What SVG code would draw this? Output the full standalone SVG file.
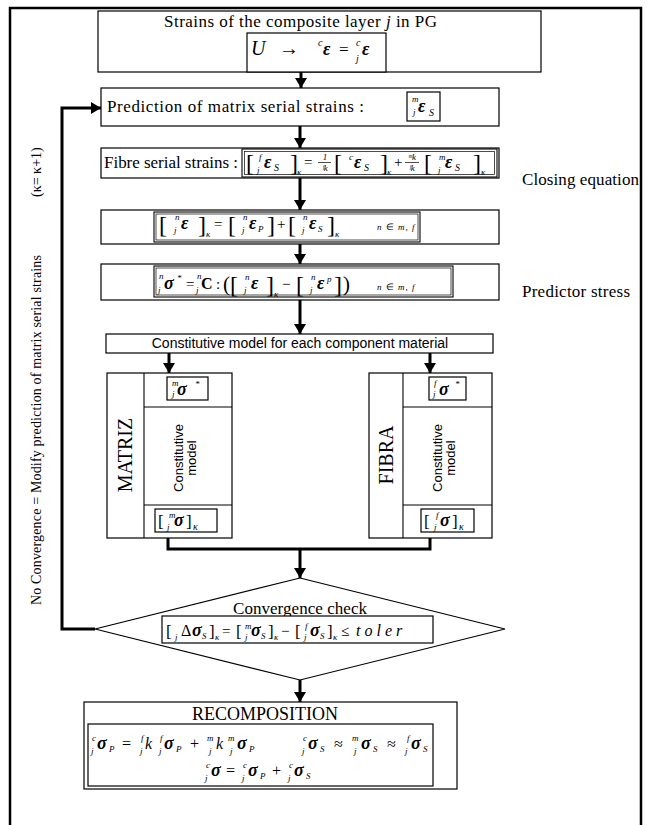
<svg xmlns="http://www.w3.org/2000/svg" width="650" height="825" viewBox="0 0 650 825">
<style>
text{font-family:"Liberation Serif","Times New Roman",serif;fill:#000}
.t{font-size:17px}
.a{font-family:"Liberation Sans",Arial,sans-serif}
.g{font-size:18px;font-style:italic;font-weight:bold}
.s{font-size:9px;font-style:italic}
.u{font-size:10px;font-style:italic}
.o{font-size:15px}
.b{font-size:24px}
.box{fill:#fff;stroke:#000;stroke-width:1.2}
.ln{fill:none;stroke:#000;stroke-width:1.1}
.ln2{fill:none;stroke:#000;stroke-width:0.7}
.con{fill:none;stroke:#000;stroke-width:3}
.ar{fill:none;stroke:#000;stroke-width:3;marker-end:url(#ah)}
</style>
<defs>
<marker id="ah" markerUnits="userSpaceOnUse" markerWidth="12" markerHeight="12" refX="10" refY="6" orient="auto">
<path d="M0,0 L10,6 L0,12 z" fill="#000"/>
</marker>
</defs>
<rect x="0" y="0" width="650" height="825" fill="#fff"/>
<rect x="10" y="8" width="631" height="840" fill="none" stroke="#000" stroke-width="2.5"/>

<g id="connectors">
<line class="ar" x1="301" y1="72" x2="301" y2="88"/>
<line class="ar" x1="300" y1="126" x2="300" y2="148"/>
<line class="ar" x1="300" y1="178" x2="300" y2="210"/>
<line class="ar" x1="300" y1="244" x2="300" y2="264"/>
<line class="ar" x1="300" y1="300" x2="300" y2="334"/>
<line class="ar" x1="169" y1="353" x2="169" y2="373"/>
<line class="ar" x1="430" y1="353" x2="430" y2="373"/>
<polyline class="con" points="168,538 168,549 430,549 430,538"/>
<line class="ar" x1="300" y1="549" x2="300" y2="578"/>
<polyline class="ar" points="95,629 62,629 62,108 101,108"/>
<line class="ar" x1="300" y1="680" x2="300" y2="702"/>
</g>

<g id="strains">
<rect class="box" x="98" y="11" width="443" height="61"/>
<text class="t" x="164" y="27" textLength="273">Strains of the composite layer <tspan font-style="italic">j</tspan> in PG</text>
<rect class="box" x="247" y="33" width="139" height="39"/>
<text x="251" y="55" font-size="20" font-style="italic">U</text>
<text x="279" y="55" font-size="20">→</text>
<text class="u" x="318" y="46">c</text>
<text class="g" x="323" y="55" font-size="20">ε</text>
<text x="339" y="55" font-size="17">=</text>
<text class="u" x="356" y="46">c</text>
<text class="u" x="356" y="62">j</text>
<text class="g" x="362" y="55" font-size="20">ε</text>
</g>

<g id="prediction">
<rect class="box" x="101" y="88" width="398" height="38"/>
<text class="t" x="107" y="112" textLength="257">Prediction of matrix  serial strains  :</text>
<rect class="box" x="407" y="92" width="33" height="29"/>
<text class="s" x="412" y="102">m</text>
<text class="s" x="413" y="115">j</text>
<text class="g" x="418" y="112">ε</text>
<text class="u" x="429" y="116">S</text>
</g>

<g id="fibre">
<rect class="box" x="101" y="148" width="398" height="30"/>
<text class="t" x="104" y="168" textLength="134">Fibre serial strains :</text>
<rect class="ln" x="242" y="149" width="255" height="28"/>
<rect class="ln2" x="244.5" y="151.5" width="250" height="23"/>
<text class="b" x="246" y="171">[</text>
<text class="s" x="259" y="160">f</text>
<text class="s" x="257" y="173">j</text>
<text class="g" x="264" y="168" font-size="17">ε</text>
<text class="u" x="274" y="171">S</text>
<text class="b" x="290" y="171">]</text>
<text class="s" x="297" y="175">κ</text>
<text class="o" x="304" y="167">=</text>
<text class="s" x="325" y="160" text-anchor="middle">1</text>
<line x1="318" y1="162.5" x2="331" y2="162.5" stroke="#000" stroke-width="0.7"/>
<text class="s" x="325" y="171" text-anchor="middle">ᶠk</text>
<text class="b" x="334" y="171">[</text>
<text class="s" x="349" y="160">c</text>
<text class="g" x="354" y="168" font-size="17">ε</text>
<text class="u" x="364" y="171">S</text>
<text class="b" x="380" y="171">]</text>
<text class="s" x="387" y="175">κ</text>
<text class="o" x="394" y="167">+</text>
<text class="s" x="412" y="160" text-anchor="middle">ᵐk</text>
<line x1="405" y1="162.5" x2="419" y2="162.5" stroke="#000" stroke-width="0.7"/>
<text class="s" x="412" y="171" text-anchor="middle">ᶠk</text>
<text class="b" x="424" y="171">[</text>
<text class="s" x="439" y="160">m</text>
<text class="s" x="438" y="173">j</text>
<text class="g" x="445" y="168" font-size="17">ε</text>
<text class="u" x="455" y="171">S</text>
<text class="b" x="473" y="171">]</text>
<text class="s" x="481" y="175">κ</text>
</g>
<text class="t" x="522" y="185" textLength="117">Closing equation</text>

<g id="total-strain">
<rect class="box" x="101" y="210" width="398" height="34"/>
<rect class="ln" x="154" y="212" width="266" height="30"/>
<rect class="ln2" x="156" y="214" width="262" height="26"/>
<text class="b" x="159" y="233">[</text>
<text class="s" x="175" y="220">n</text>
<text class="s" x="174" y="233">j</text>
<text class="g" x="181" y="229" font-size="17">ε</text>
<text class="b" x="198" y="233">]</text>
<text class="s" x="206" y="237">κ</text>
<text class="o" x="214" y="229">=</text>
<text class="b" x="228" y="233">[</text>
<text class="s" x="243" y="220">n</text>
<text class="s" x="242" y="233">j</text>
<text class="g" x="249" y="229" font-size="17">ε</text>
<text class="s" x="258" y="232">P</text>
<text class="b" x="267" y="233">]</text>
<text class="o" x="277" y="229">+</text>
<text class="b" x="288" y="233">[</text>
<text class="s" x="303" y="220">n</text>
<text class="s" x="302" y="233">j</text>
<text class="g" x="309" y="229" font-size="17">ε</text>
<text class="s" x="318" y="232">S</text>
<text class="b" x="327" y="233">]</text>
<text class="s" x="335" y="237">κ</text>
<text class="s" x="377" y="230" font-size="10" letter-spacing="1">n <tspan font-style="normal">∈</tspan> m, f</text>
</g>

<g id="predictor">
<rect class="box" x="101" y="264" width="398" height="36"/>
<rect class="ln" x="154" y="266" width="299" height="31"/>
<rect class="ln2" x="156" y="268" width="295" height="27"/>
<text class="s" x="159" y="279">n</text>
<text class="s" x="158" y="293">j</text>
<text class="g" x="164" y="289" font-size="17">σ</text>
<text class="s" x="177" y="281">*</text>
<text class="o" x="186" y="289">=</text>
<text class="s" x="197" y="279">n</text>
<text class="s" x="196" y="293">j</text>
<text x="201" y="289" font-size="16" font-weight="bold">C</text>
<text class="o" x="216" y="289">:</text>
<text x="223" y="291" font-size="21">(</text>
<text class="b" x="230" y="293">[</text>
<text class="s" x="245" y="280">n</text>
<text class="s" x="244" y="293">j</text>
<text class="g" x="251" y="289" font-size="17">ε</text>
<text class="b" x="266" y="293">]</text>
<text class="s" x="274" y="297">κ</text>
<text class="o" x="282" y="289">−</text>
<text class="b" x="296" y="293">[</text>
<text class="s" x="311" y="280">n</text>
<text class="s" x="310" y="293">j</text>
<text class="g" x="317" y="289" font-size="17">ε</text>
<text class="s" x="327" y="282">p</text>
<text class="b" x="334" y="293">]</text>
<text x="343" y="291" font-size="21">)</text>
<text class="s" x="377" y="290" font-size="10" letter-spacing="1">n <tspan font-style="normal">∈</tspan> m, f</text>
</g>
<text class="t" x="522" y="297" textLength="108">Predictor stress</text>

<g id="constitutive">
<rect class="box" x="106" y="334" width="387" height="19"/>
<text class="a" x="300" y="348" font-size="14" text-anchor="middle">Constitutive model for each component material</text>
</g>

<g id="matriz">
<rect class="box" x="107" y="373" width="125" height="165"/>
<line class="ln" x1="144" y1="373" x2="144" y2="538"/>
<line class="ln" x1="144" y1="407" x2="232" y2="407"/>
<line class="ln" x1="144" y1="505" x2="232" y2="505"/>
<text x="132" y="455" font-size="20" text-anchor="middle" transform="rotate(-90 132 455)">MATRIZ</text>
<text class="a" x="183" y="458" font-size="13" text-anchor="middle" transform="rotate(-90 183 458)">Constitutive</text>
<text class="a" x="196" y="458" font-size="13" text-anchor="middle" transform="rotate(-90 196 458)">model</text>
<rect class="box" x="167" y="377" width="41" height="23"/>
<text class="s" x="172" y="386" font-size="8">m</text>
<text class="s" x="172" y="397" font-size="8">j</text>
<text class="g" x="177" y="395" font-size="16">σ</text>
<text class="s" x="195" y="387">*</text>
<rect class="box" x="155" y="509" width="62" height="23"/>
<text x="158" y="527" font-size="17">[</text>
<text class="s" x="169" y="518">m</text>
<text class="s" x="167" y="530">j</text>
<text class="g" x="174" y="526" font-size="18">σ</text>
<text x="186" y="527" font-size="17">]</text>
<text class="u" x="193" y="530">κ</text>
</g>

<g id="fibra">
<rect class="box" x="369" y="373" width="123" height="165"/>
<line class="ln" x1="403" y1="373" x2="403" y2="538"/>
<line class="ln" x1="403" y1="407" x2="492" y2="407"/>
<line class="ln" x1="403" y1="505" x2="492" y2="505"/>
<text x="393" y="455" font-size="20" text-anchor="middle" transform="rotate(-90 393 455)">FIBRA</text>
<text class="a" x="442" y="458" font-size="13" text-anchor="middle" transform="rotate(-90 442 458)">Constitutive</text>
<text class="a" x="455" y="458" font-size="13" text-anchor="middle" transform="rotate(-90 455 458)">model</text>
<rect class="box" x="429" y="377" width="37" height="23"/>
<text class="s" x="434" y="386" font-size="8">f</text>
<text class="s" x="433" y="397" font-size="8">j</text>
<text class="g" x="439" y="395" font-size="16">σ</text>
<text class="s" x="455" y="387">*</text>
<rect class="box" x="421" y="509" width="53" height="23"/>
<text x="424" y="527" font-size="17">[</text>
<text class="s" x="436" y="518">f</text>
<text class="s" x="434" y="530">j</text>
<text class="g" x="440" y="526" font-size="18">σ</text>
<text x="452" y="527" font-size="17">]</text>
<text class="u" x="459" y="530">κ</text>
</g>

<g id="convergence">
<polygon class="box" points="300,578 505,629 300,680 95,629"/>
<text class="t" x="233" y="614" textLength="134">Convergence check</text>
<rect class="box" x="162" y="616" width="271" height="27"/>
<text x="166" y="637" font-size="17">[</text>
<text class="s" x="175" y="640">j</text>
<text x="181" y="636" font-size="16">Δ</text>
<text class="g" x="192" y="636" font-size="16">σ</text>
<text class="s" x="202" y="639">S</text>
<text x="209" y="637" font-size="17">]</text>
<text class="s" x="215" y="640">κ</text>
<text class="o" x="222" y="636">=</text>
<text x="236" y="637" font-size="17">[</text>
<text class="s" x="245" y="629">m</text>
<text class="s" x="245" y="640">j</text>
<text class="g" x="251" y="636" font-size="16">σ</text>
<text class="s" x="261" y="639">S</text>
<text x="268" y="637" font-size="17">]</text>
<text class="s" x="274" y="640">κ</text>
<text class="o" x="281" y="636">−</text>
<text x="295" y="637" font-size="17">[</text>
<text class="s" x="305" y="629">f</text>
<text class="s" x="304" y="640">j</text>
<text class="g" x="310" y="636" font-size="16">σ</text>
<text class="s" x="320" y="639">S</text>
<text x="327" y="637" font-size="17">]</text>
<text class="s" x="333" y="640">κ</text>
<text class="o" x="341" y="636">≤</text>
<text x="356" y="636" font-size="16" font-style="italic" letter-spacing="4">toler</text>
</g>

<g id="recomposition">
<rect class="box" x="84" y="702" width="373" height="87"/>
<text x="265" y="720" font-size="18" text-anchor="middle">RECOMPOSITION</text>
<rect class="box" x="88" y="724" width="345" height="62"/>
<text class="s" x="92" y="741">c</text><text class="s" x="91" y="754">j</text>
<text class="g" x="97" y="749">σ</text><text class="s" x="109" y="752">P</text>
<text x="122" y="749" font-size="16">=</text>
<text class="s" x="141" y="741">f</text><text class="s" x="140" y="754">j</text>
<text x="145" y="749" font-size="16" font-style="italic">k</text>
<text class="s" x="160" y="741">f</text><text class="s" x="159" y="754">j</text>
<text class="g" x="164" y="749">σ</text><text class="s" x="176" y="752">P</text>
<text x="190" y="749" font-size="16">+</text>
<text class="s" x="207" y="741">m</text><text class="s" x="209" y="754">j</text>
<text x="216" y="749" font-size="16" font-style="italic">k</text>
<text class="s" x="228" y="741">m</text><text class="s" x="230" y="754">j</text>
<text class="g" x="237" y="749">σ</text><text class="s" x="249" y="752">P</text>
<text class="s" x="303" y="741">c</text><text class="s" x="302" y="754">j</text>
<text class="g" x="308" y="749">σ</text><text class="s" x="320" y="752">S</text>
<text x="334" y="749" font-size="16">≈</text>
<text class="s" x="352" y="741">m</text><text class="s" x="354" y="754">j</text>
<text class="g" x="361" y="749">σ</text><text class="s" x="373" y="752">S</text>
<text x="387" y="749" font-size="16">≈</text>
<text class="s" x="407" y="741">f</text><text class="s" x="405" y="754">j</text>
<text class="g" x="411" y="749">σ</text><text class="s" x="423" y="752">S</text>
<text class="s" x="206" y="768">c</text><text class="s" x="205" y="781">j</text>
<text class="g" x="211" y="776">σ</text>
<text x="226" y="776" font-size="16">=</text>
<text class="s" x="243" y="768">c</text><text class="s" x="242" y="781">j</text>
<text class="g" x="248" y="776">σ</text><text class="s" x="260" y="779">P</text>
<text x="272" y="776" font-size="16">+</text>
<text class="s" x="289" y="768">c</text><text class="s" x="288" y="781">j</text>
<text class="g" x="294" y="776">σ</text><text class="s" x="306" y="779">S</text>
</g>

<g id="loop-label">
<text x="41" y="605" font-size="14" textLength="350" transform="rotate(-90 41 605)">No Convergence = Modify prediction of matrix  serial strains</text>
<text x="41" y="197" font-size="14" transform="rotate(-90 41 197)">(κ= κ+1)</text>
</g>
</svg>
